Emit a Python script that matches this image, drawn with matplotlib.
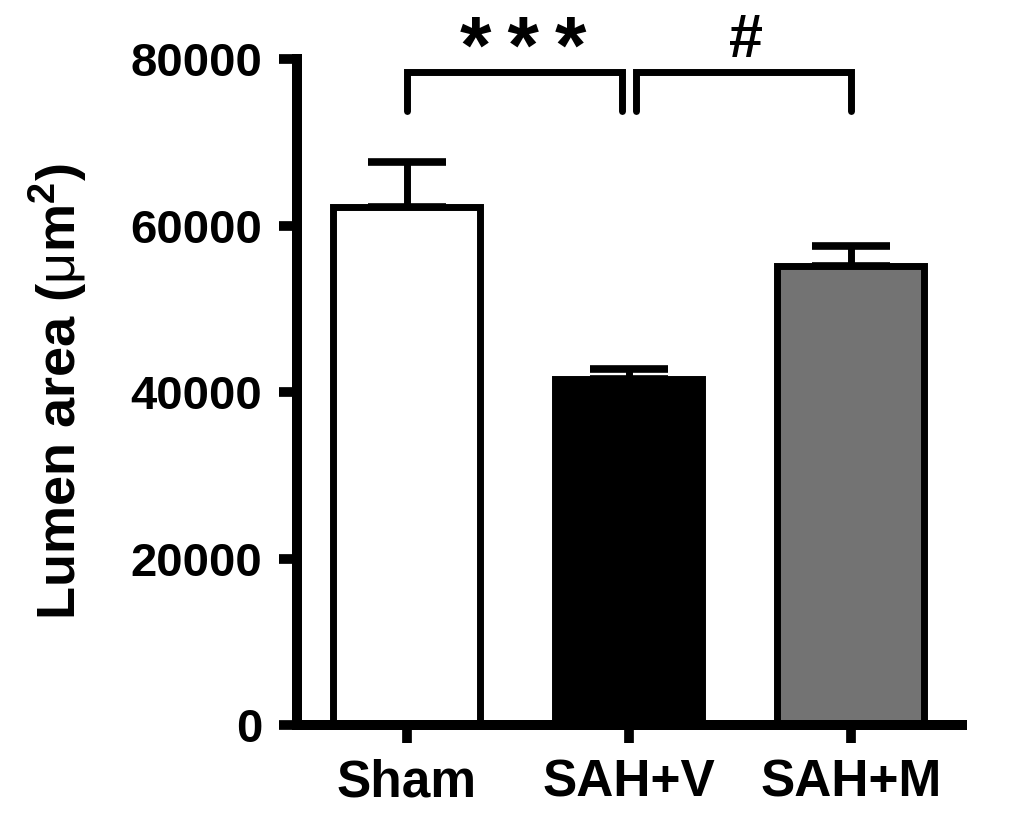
import matplotlib
matplotlib.use("Agg")
import matplotlib.pyplot as plt

categories = ["Sham", "SAH+V", "SAH+M"]
means = [62200, 41550, 55100]
sems = [5400, 1200, 2450]
colors = ["#ffffff", "#000000", "#737373"]
yticks = [0, 20000, 40000, 60000, 80000]
comparisons = [(0, 1, "*\u2009*\u2009*"), (1, 2, "#")]

plt.rcParams['font.family'] = ['Liberation Sans', 'DejaVu Sans']
plt.rcParams['mathtext.fontset'] = 'custom'
plt.rcParams['mathtext.rm'] = 'Liberation Sans'
plt.rcParams['mathtext.bf'] = 'Liberation Sans:bold'
plt.rcParams['mathtext.it'] = 'Liberation Sans:italic'
plt.rcParams['mathtext.default'] = 'rm'

fig = plt.figure(figsize=(10.24, 8.21), dpi=100)
ax = fig.add_axes([0.290, 0.1169, 0.6494, 0.8112])

x = list(range(len(categories)))
ax.bar(x, means, width=0.662, color=colors, edgecolor="black", linewidth=5, zorder=2)
ax.errorbar(x, means, yerr=[[0]*len(sems), sems], fmt="none", ecolor="black",
            elinewidth=5, capsize=28, capthick=5.5, zorder=1)

ax.set_xlim(-0.495, 2.5)
ax.set_ylim(0, 80000)
ax.set_yticks(yticks)
ax.set_yticklabels([str(t) for t in yticks], fontsize=34, fontweight="bold")
ax.set_xticks(x)
ax.set_xticklabels(categories, fontsize=37, fontweight="bold")
ax.tick_params(axis="both", direction="out", length=13, width=7, pad=12)
ax.tick_params(axis="x", pad=11)

for s in ["top", "right"]:
    ax.spines[s].set_visible(False)
for s in ["left", "bottom"]:
    ax.spines[s].set_linewidth(7.2)
    ax.spines[s].set_capstyle("projecting")

ax.set_ylabel(r"Lumen area ($\mu$m$^{\mathbf{2}}$)", fontsize=39, fontweight="bold", labelpad=30)

# significance brackets
top_y = 78440
bot_y = 73700
gap = 0.032
for i, j, label in comparisons:
    x0 = i + (gap if i > 0 else 0)
    x1 = j - (gap if j < 2 and i == 0 else 0)
    ax.plot([x0, x0, x1, x1], [bot_y, top_y, top_y, bot_y], color="black", lw=5,
            clip_on=False, solid_capstyle="round", solid_joinstyle="miter")
    if label == "#":
        ax.text((x0 + x1) / 2 + 0.01, 80300, label, ha="center", va="baseline",
                fontsize=44, fontweight="bold", clip_on=False)
    else:
        ax.text((x0 + x1) / 2 + 0.04, 78300, label, ha="center", va="baseline",
                fontsize=58, fontweight="bold", clip_on=False)

fig.savefig("out.png", dpi=100, facecolor="white")
